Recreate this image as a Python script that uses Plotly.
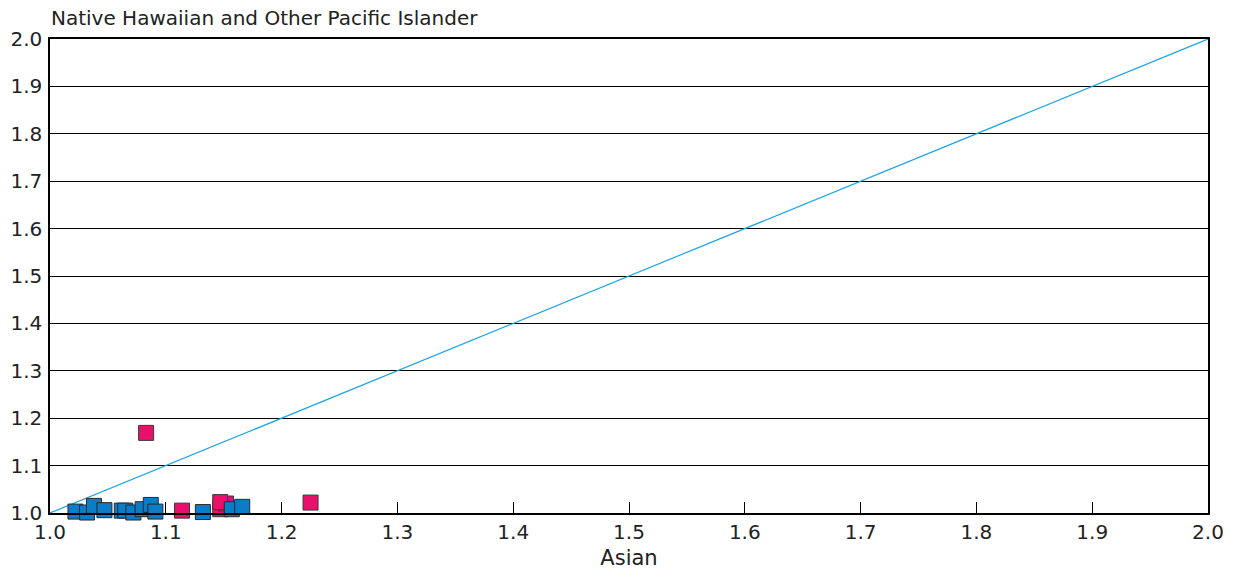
import plotly.graph_objects as go

blue_x = [1.022, 1.032, 1.038, 1.047, 1.062, 1.065, 1.072, 1.080, 1.087, 1.091, 1.132, 1.157, 1.166]
blue_y = [1.003, 1.001, 1.015, 1.006, 1.005, 1.005, 1.001, 1.008, 1.017, 1.003, 1.002, 1.008, 1.013]
pink_x = [1.083, 1.114, 1.147, 1.152, 1.147, 1.225]
pink_y = [1.169, 1.005, 1.008, 1.020, 1.023, 1.022]
diag = [1.0, 2.0]
ticks = [1.0, 1.1, 1.2, 1.3, 1.4, 1.5, 1.6, 1.7, 1.8, 1.9, 2.0]
tick_text = [f"{t:.1f}" for t in ticks]

fig = go.Figure()
fig.add_trace(go.Scatter(x=diag, y=diag, mode="lines",
                         line=dict(color="#1aa3e8", width=1.2), hoverinfo="skip"))
fig.add_trace(go.Scatter(x=pink_x, y=pink_y, mode="markers", cliponaxis=False,
                         marker=dict(symbol="square", size=15, color="#e8106a",
                                     line=dict(color="#3a3a3a", width=1))))
fig.add_trace(go.Scatter(x=blue_x, y=blue_y, mode="markers", cliponaxis=False,
                         marker=dict(symbol="square", size=15, color="#0a7cc8",
                                     line=dict(color="#2a2a2a", width=1))))

font = "DejaVu Sans, Verdana, sans-serif"
fig.update_layout(
    width=1234, height=574,
    margin=dict(l=50, r=26, t=39, b=61, autoexpand=False),
    plot_bgcolor="white", paper_bgcolor="white",
    showlegend=False,
    font=dict(family=font, size=20, color="#222"),
    xaxis=dict(range=[1.0, 2.0], tickvals=ticks, ticktext=tick_text,
               showgrid=False, zeroline=False, automargin=False,
               showline=True, linecolor="black", linewidth=1.5, mirror=True,
               ticks="inside", ticklen=11, tickcolor="black", tickwidth=1,
               title=dict(text="Asian", font=dict(size=21), standoff=8)),
    yaxis=dict(range=[1.0, 2.0], tickvals=ticks, ticktext=tick_text,
               showgrid=True, gridcolor="black", gridwidth=1, zeroline=False,
               automargin=False,
               showline=True, linecolor="black", linewidth=1.5, mirror=True,
               ticks="", ticklabelstandoff=2),
    annotations=[dict(text="Native Hawaiian and Other Pacific Islander",
                      xref="paper", yref="paper", x=0, y=1, xanchor="left",
                      yanchor="middle", yshift=21, xshift=-1, height=22,
                      valign="middle", showarrow=False,
                      font=dict(size=20, color="#222"))],
)
fig.write_html("out.html", config={"displayModeBar": False},
               post_script="document.body.style.margin='0';document.body.style.overflow='hidden';")
